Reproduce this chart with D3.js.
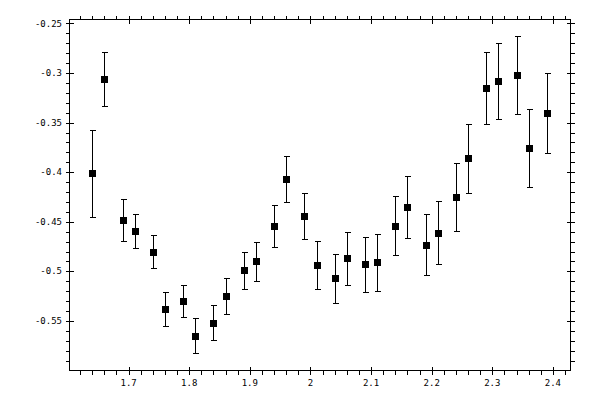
<!DOCTYPE html>
<html><head><meta charset="utf-8">
<script src="https://cdn.jsdelivr.net/npm/d3@7"></script>
<style>html,body{margin:0;padding:0;background:#fff}svg{display:block}</style>
</head><body>
<svg id="chart" width="600" height="400"></svg>
<script>
// Data
const xValues = [1.64,1.66,1.69,1.71,1.74,1.76,1.79,1.81,1.84,1.86,1.89,1.91,1.94,1.96,1.99,2.01,2.04,2.06,2.09,2.11,2.14,2.16,2.19,2.21,2.24,2.26,2.29,2.31,2.34,2.36,2.39];
const yValues = [-0.401,-0.306,-0.448,-0.459,-0.480,-0.538,-0.530,-0.565,-0.552,-0.525,-0.499,-0.490,-0.454,-0.407,-0.444,-0.494,-0.507,-0.487,-0.493,-0.491,-0.454,-0.435,-0.473,-0.461,-0.425,-0.386,-0.315,-0.308,-0.302,-0.376,-0.340];
const yErrors = [0.044,0.027,0.021,0.017,0.017,0.017,0.0165,0.0177,0.0177,0.018,0.019,0.020,0.021,0.023,0.0233,0.0243,0.025,0.0268,0.028,0.029,0.030,0.031,0.031,0.032,0.0344,0.035,0.036,0.038,0.0395,0.0394,0.0405];
const xMajorTicks = [1.7,1.8,1.9,2.0,2.1,2.2,2.3,2.4];
const xTickLabels = ["1.7","1.8","1.9","2","2.1","2.2","2.3","2.4"];
const yMajorTicks = [-0.25,-0.3,-0.35,-0.4,-0.45,-0.5,-0.55];
const yTickLabels = ["-0.25","-0.3","-0.35","-0.4","-0.45","-0.5","-0.55"];
const xMinorTicks = d3.range(81, 122, 1).map(d => d/50).filter(d => Math.round(d*50) % 5 !== 0);
const yMinorTicks = d3.range(-59, -24, 1).map(d => d/100).filter(d => Math.round(d*100) % 5 !== 0);

const svg = d3.select("#chart");
const L = 69.5, R = 570.5, T = 19.5, B = 370.5;
const x = d3.scaleLinear().domain([1.6025, 2.429]).range([L, R]);
const y = d3.scaleLinear().domain([-0.6, -0.246]).range([B, T]);

const g = svg.append("g").attr("shape-rendering", "crispEdges");

// frame
g.append("rect").attr("x", L).attr("y", T).attr("width", R - L).attr("height", B - T)
  .attr("fill", "none").attr("stroke", "#000").attr("stroke-width", 1);

const px = v => Math.round(x(v)) + 0.5;
const py = v => Math.round(y(v)) + 0.5;
const tick = (x1, y1, x2, y2) => g.append("line").attr("x1", x1).attr("y1", y1).attr("x2", x2).attr("y2", y2).attr("stroke", "#000").attr("stroke-width", 1);

// x ticks (bottom and top)
xMinorTicks.forEach(v => { tick(px(v), B, px(v), B + 4); tick(px(v), T, px(v), T - 4); });
xMajorTicks.forEach(v => { tick(px(v), B - 4, px(v), B + 4); tick(px(v), T - 4, px(v), T + 4); });
// y ticks (left and right)
yMinorTicks.forEach(v => { tick(L - 4, py(v), L, py(v)); tick(R, py(v), R + 4, py(v)); });
yMajorTicks.forEach(v => { tick(L - 4, py(v), L + 4, py(v)); tick(R - 4, py(v), R + 4, py(v)); });

const font = "'DejaVu Sans Mono', monospace";
svg.append("g").selectAll("text").data(xMajorTicks).join("text")
  .attr("x", d => x(d)).attr("y", 386)
  .attr("text-anchor", "middle").attr("font-family", font).attr("font-size", 9)
  .text((d, i) => xTickLabels[i]);
svg.append("g").selectAll("text").data(yMajorTicks).join("text")
  .attr("x", 62).attr("y", d => y(d)).attr("dy", "0.35em")
  .attr("text-anchor", "end").attr("font-family", font).attr("font-size", 9)
  .text((d, i) => yTickLabels[i]);

// error bars
const pts = xValues.map((v, i) => ({x: v, y: yValues[i], e: yErrors[i]}));
const eb = g.append("g").attr("stroke", "#000").attr("stroke-width", 1);
pts.forEach(d => {
  const cx = px(d.x);
  eb.append("line").attr("x1", cx).attr("x2", cx).attr("y1", py(d.y + d.e)).attr("y2", py(d.y - d.e));
  eb.append("line").attr("x1", cx - 3).attr("x2", cx + 3).attr("y1", py(d.y + d.e)).attr("y2", py(d.y + d.e));
  eb.append("line").attr("x1", cx - 3).attr("x2", cx + 3).attr("y1", py(d.y - d.e)).attr("y2", py(d.y - d.e));
});
// markers
g.append("g").selectAll("rect").data(pts).join("rect")
  .attr("x", d => Math.round(x(d.x)) - 3).attr("y", d => Math.round(y(d.y)) - 3)
  .attr("width", 7).attr("height", 7).attr("fill", "#000");
</script>
</body></html>
